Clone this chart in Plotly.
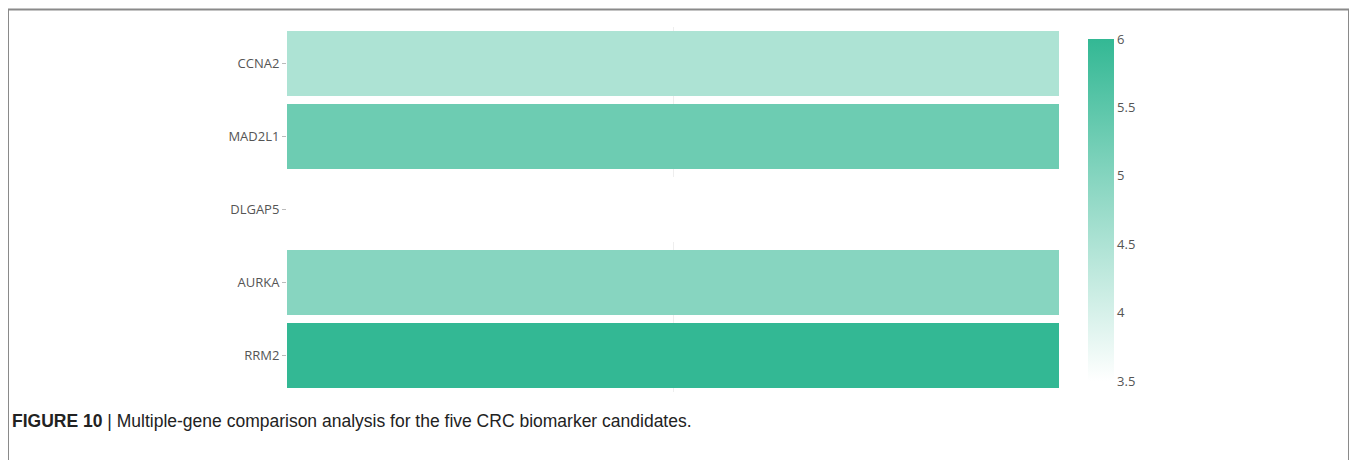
import plotly.graph_objects as go

genes = ["RRM2", "AURKA", "DLGAP5", "MAD2L1", "CCNA2"]
values = [6.0, 4.97, 3.5, 5.29, 4.5]
cbar_ticks = [3.5, 4, 4.5, 5, 5.5, 6]
cbar_labels = ["3.5", "4", "4.5", "5", "5.5", "6"]
caption_bold = "FIGURE 10"
caption_rest = " | Multiple-gene comparison analysis for the five CRC biomarker candidates."

# page has an 8px body margin; figure coordinates = page coordinates - 8
W, H = 1349, 452
L, R, T, B = 279, 1051, 19, 384
pw, ph = R - L, B - T

def px(x):
    return (x - L) / pw

def py(y):
    return (B - y) / ph

fig = go.Figure(go.Heatmap(
    z=[[v] for v in values],
    x=["score"],
    y=genes,
    zmin=3.5, zmax=6,
    ygap=8,
    colorscale=[[0, "#ffffff"], [1, "#33b894"]],
    colorbar=dict(
        x=px(1080), xanchor="left", xpad=0,
        y=py(31), yanchor="top", ypad=0,
        lenmode="pixels", len=342,
        thickness=26, outlinewidth=0,
        tickvals=cbar_ticks,
        ticktext=cbar_labels,
        ticks="", ticklabelposition="outside",
        tickfont=dict(family="Open Sans", size=13, color="#555"),
    ),
    showscale=True,
))

fig.update_layout(
    width=W, height=H,
    margin=dict(l=L, r=W - R, t=T, b=H - B, pad=0),
    paper_bgcolor="white", plot_bgcolor="white",
    xaxis=dict(showticklabels=False, showgrid=True, gridcolor="#eeeeee",
               zeroline=False, ticks=""),
    yaxis=dict(showgrid=True, gridcolor="#f6f6f6", zeroline=False,
               ticks="outside", ticklen=4, tickcolor="#bbbbbb",
               tickfont=dict(family="Open Sans", size=13, color="#555")),
    shapes=[dict(type="rect", xref="paper", yref="paper",
                 x0=px(0), x1=px(1341), y0=py(470), y1=py(1.5),
                 line=dict(color="#8a8a8a", width=2), fillcolor="rgba(0,0,0,0)")],
    annotations=[dict(
        xref="paper", yref="paper", x=px(2), y=py(413),
        xanchor="left", yanchor="middle", showarrow=False,
        text="<b>" + caption_bold + "</b>" + caption_rest,
        font=dict(family="Liberation Sans", size=17.5, color="#222"),
    )],
)

fig.write_html("out.html")
